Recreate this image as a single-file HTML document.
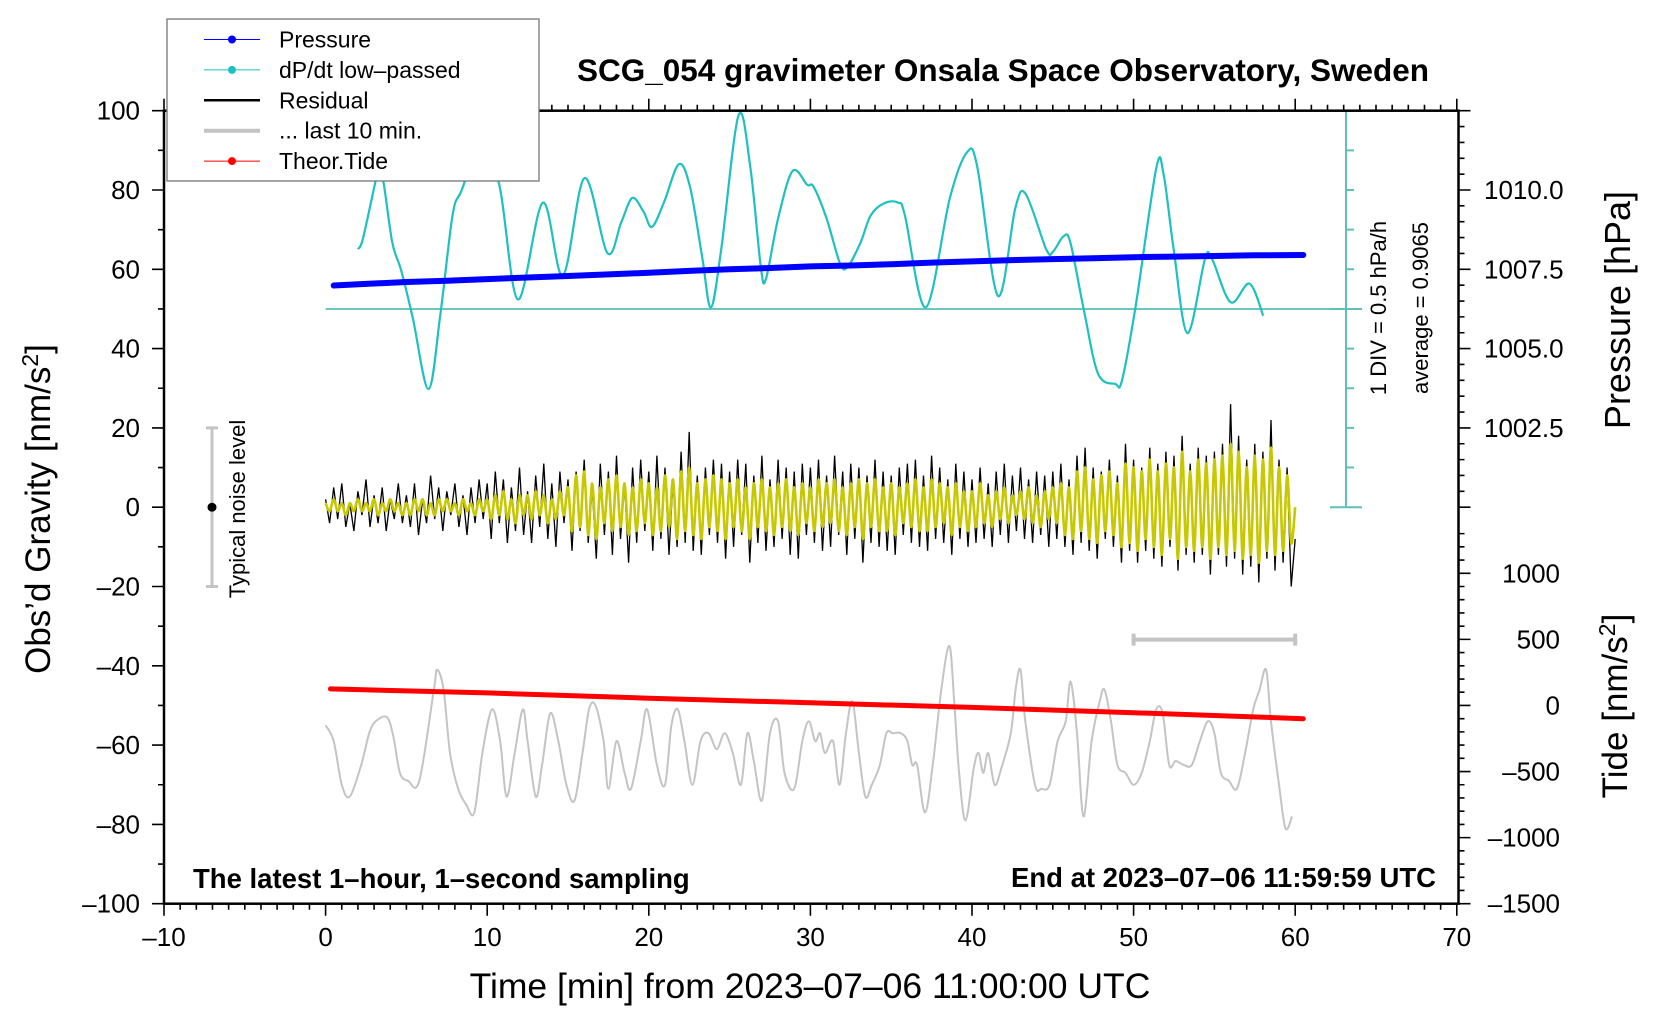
<!DOCTYPE html>
<html><head><meta charset="utf-8"><style>
html,body{margin:0;padding:0;background:#fff}
svg{display:block;font-family:"Liberation Sans",sans-serif}
</style></head><body>
<svg id="chart" width="1660" height="1020" viewBox="0 0 1660 1020" xmlns="http://www.w3.org/2000/svg">
<rect x="0" y="0" width="1660" height="1020" fill="#fff"/>
<g id="plot"></g>
<g id="axes"></g>
<text x="1003" y="81" text-anchor="middle" font-size="31.5" font-weight="bold">SCG_054 gravimeter Onsala Space Observatory, Sweden</text>
<text x="193" y="888" font-size="27.5" font-weight="bold">The latest 1–hour, 1–second sampling</text>
<text x="1436" y="887" text-anchor="end" font-size="27.5" font-weight="bold">End at 2023–07–06 11:59:59 UTC</text>
<text x="0" y="0" transform="translate(50,509) rotate(-90)" text-anchor="middle" font-size="35">Obs’d Gravity [nm/s<tspan dy="-12" font-size="23">2</tspan><tspan dy="12">]</tspan></text>
<text x="810" y="998" text-anchor="middle" font-size="35.5">Time [min] from 2023–07–06 11:00:00 UTC</text>
<text x="0" y="0" transform="translate(1630,310) rotate(-90)" text-anchor="middle" font-size="36">Pressure [hPa]</text>
<text x="0" y="0" transform="translate(1627,706) rotate(-90)" text-anchor="middle" font-size="35">Tide [nm/s<tspan dy="-12" font-size="23">2</tspan><tspan dy="12">]</tspan></text>
<text x="0" y="0" transform="translate(1386,308) rotate(-90)" text-anchor="middle" font-size="22">1 DIV = 0.5 hPa/h</text>
<text x="0" y="0" transform="translate(1428,308) rotate(-90)" text-anchor="middle" font-size="22">average = 0.9065</text>
<text x="0" y="0" transform="translate(245,509) rotate(-90)" text-anchor="middle" font-size="22">Typical noise level</text>
<g id="legend"></g>
</svg>
<script>
// ---- data ----
const tickX = [-10,0,10,20,30,40,50,60,70];
const tickY = [-100,-80,-60,-40,-20,0,20,40,60,80,100];
const tickP = ["1010.0","1007.5","1005.0","1002.5"];
const tickTide = [1000,500,0,-500,-1000,-1500];
const cyanT = [2.0,2.3,3.05,3.3,3.6,4.13,4.67,5.4,6.37,7.1,7.86,8.4,9.5,10.73,11.9,13.44,14.68,16.02,17.44,18.3,18.98,19.68,20.2,20.96,21.86,22.56,23.3,23.84,24.48,25.55,26.28,26.93,27.25,28.0,28.9,29.8,30.2,31.0,31.83,32.3,33.1,33.73,34.58,35.43,35.85,37.14,38.63,39.69,40.33,41.6,42.68,43.32,44.6,45.02,45.66,46.09,46.94,47.8,48.86,49.28,50.14,51.4,51.85,52.48,53.33,54.4,54.83,56.0,57.17,58.02];
const cyanV = [65.1,67.6,81.5,86,81.5,66.7,59.8,47.6,29.8,48.5,73.7,79.7,90,81.6,52.4,76.8,58.4,83,64.1,71.9,78,74.5,70.7,77.1,86.5,80.6,63.2,50.4,65,98.8,85.8,60.6,57.6,72.8,84.8,81.3,80.8,72.8,61.5,60.6,66.7,73.6,76.7,76.8,73.6,50.4,78,89.5,85.8,53.3,75.4,79,65,64.5,68.3,66.7,49.3,33.7,31.1,32,51.1,85.4,84.1,65,43.9,62.3,62.8,51.7,56.4,48.3];
const presT = [0.5,2.5,5,7.5,10,12.5,15,17.5,20,22.5,25,27.5,30,32.5,35,37.5,40,42.5,45,47.5,50,52.5,55,57.5,60.5];
const presV = [1006.99,1007.04,1007.1,1007.14,1007.19,1007.24,1007.29,1007.34,1007.39,1007.45,1007.5,1007.54,1007.59,1007.62,1007.66,1007.71,1007.75,1007.79,1007.82,1007.85,1007.88,1007.9,1007.92,1007.94,1007.95];
const tideT = [0.3,10,20,30,40,50,60.5];
const tideV = [125,95,55,20,-15,-55,-100];
const resid = [2,-4,5,-3,6,-5,1,-6,4,-2,7,-5,3,-4,5,-6,2,-3,6,-4,
3,-5,6,-7,2,-4,8,-3,5,-6,4,-2,6,-5,3,-7,5,-4,7,-3,
6,-8,9,-4,7,-9,5,-6,10,-7,4,-9,8,-5,11,-8,6,-10,9,-4,
7,-11,9,-6,12,-9,5,-13,11,-7,9,-12,13,-8,6,-14,10,-9,12,-6,
9,-11,13,-8,10,-12,7,-10,14,-9,19,-11,8,-12,10,-7,12,-9,11,-13,
9,-10,12,-7,11,-14,8,-9,13,-11,7,-10,12,-8,10,-12,9,-13,11,-7,
10,-9,12,-11,8,-10,13,-7,9,-12,11,-8,10,-14,8,-9,12,-10,9,-11,
8,-12,10,-7,11,-9,12,-10,8,-11,13,-8,10,-9,7,-12,11,-8,9,-10,
7,-9,10,-8,6,-10,9,-7,11,-9,8,-6,10,-8,7,-9,9,-7,8,-10,
9,-8,11,-10,7,-12,13,-9,15,-11,10,-13,9,-8,12,-10,8,-14,16,-11,
12,-14,10,-11,15,-13,11,-15,14,-10,13,-16,18,-12,11,-14,15,-12,13,-17,
14,-12,16,-15,26,-13,18,-17,12,-15,16,-19,14,-13,22,-16,12,-14,10,-20,-8];
const smooth = [1,-1,2,-1,1,-2,1,-1,2,-1,1,-1,2,-2,1,-1,2,-1,1,-2,
1,-2,2,-1,2,-2,1,-2,2,-1,2,-1,1,-2,2,-1,1,-2,2,-1,
2,-3,3,-2,4,-3,2,-4,3,-2,3,-3,4,-2,3,-4,2,-3,4,-2,
5,-6,8,-5,9,-7,6,-8,5,-4,7,-6,8,-5,6,-7,5,-6,7,-4,
6,-7,5,-6,8,-5,7,-8,9,-6,10,-7,6,-8,7,-5,8,-6,7,-8,
6,-5,7,-6,5,-8,6,-5,7,-6,5,-7,6,-5,7,-6,5,-7,6,-4,
5,-6,7,-5,6,-4,7,-6,5,-7,6,-5,7,-8,6,-5,7,-6,5,-6,
6,-7,5,-4,6,-5,7,-6,5,-6,7,-5,6,-4,5,-7,6,-5,4,-6,
4,-5,6,-4,3,-5,4,-3,5,-4,3,-2,4,-3,5,-4,3,-5,4,-3,
5,-4,6,-7,5,-8,9,-6,10,-8,7,-9,8,-6,9,-7,6,-10,11,-9,
10,-11,9,-8,12,-10,9,-12,11,-8,10,-13,14,-10,9,-11,12,-10,11,-13,
12,-10,13,-12,16,-11,14,-13,10,-12,13,-14,12,-11,15,-12,10,-11,8,-9,0];
const grayT = [0,0.5,1.0,1.5,2.2,2.7,3.1,3.8,4.2,4.6,5.1,5.8,6.7,6.9,7.3,7.7,8.2,8.7,9.2,9.7,10.3,10.8,11.2,11.7,12.2,12.5,13.0,13.4,13.9,14.4,14.9,15.4,15.9,16.3,16.7,17.2,17.5,18.0,18.5,18.9,19.5,19.9,20.5,21.0,21.4,21.8,22.2,22.7,23.2,23.7,24.2,24.7,25.2,25.7,26.1,26.5,27.0,27.5,28.0,28.4,29.0,29.5,29.9,30.3,30.6,30.9,31.4,31.8,32.2,32.6,33.0,33.4,33.8,34.3,34.7,35.1,35.6,36.0,36.3,36.6,37.1,37.6,38.1,38.6,38.9,39.2,39.6,40.1,40.4,40.7,41.0,41.4,41.8,42.4,42.7,43.0,43.3,43.9,44.3,44.8,45.3,45.8,46.1,46.5,46.9,47.4,47.9,48.2,48.6,49.0,49.5,50.0,50.5,51.0,51.4,51.8,52.2,52.6,53.1,53.6,54.1,54.6,55.0,55.4,55.9,56.4,56.9,57.4,57.8,58.2,58.5,59.0,59.4,59.8];
const grayV = [-55,-59,-70,-73,-65,-57,-54,-53,-58,-67,-69,-69,-46,-41,-46,-62,-71,-75,-77,-62,-51,-59,-73,-62,-51,-59,-73,-65,-52,-59,-70,-74,-62,-51,-50,-59,-71,-59,-67,-71,-59,-51,-65,-70,-55,-51,-59,-70,-59,-57,-61,-57,-62,-70,-57,-64,-74,-57,-54,-67,-71,-59,-54,-59,-57,-62,-59,-70,-57,-49,-62,-73,-70,-65,-57,-57,-57,-59,-65,-65,-77,-64,-46,-35,-49,-67,-79,-66,-62,-67,-62,-70,-66,-57,-46,-41,-54,-70,-71,-70,-59,-54,-44,-57,-78,-59,-49,-46,-54,-65,-67,-70,-67,-59,-51,-52,-65,-64,-65,-65,-59,-54,-57,-67,-69,-71,-62,-51,-46,-41,-54,-70,-81,-78];

// ---- scales ----
const X = t => 325.6 + t*16.16;
const Y = g => 110.7 + (100-g)*3.965;
const P2G = p => 80 + (p-1010)*8;
const T2G = v => -50 + v/30;
const NS = "http://www.w3.org/2000/svg";
const plot = document.getElementById('plot');
const axes = document.getElementById('axes');
const legend = document.getElementById('legend');
function mk(tag, attrs, parent){const e=document.createElementNS(NS,tag);for(const k in attrs)e.setAttribute(k,attrs[k]);parent.appendChild(e);return e;}
function pts(xs, ys){return xs.map((x,i)=>x.toFixed(1)+','+ys[i].toFixed(1)).join(' ');}
function smoothPath(xs, ys){
  let d = `M${xs[0].toFixed(1)},${ys[0].toFixed(1)}`;
  for(let i=0;i<xs.length-1;i++){
    const x0=xs[Math.max(0,i-1)], y0=ys[Math.max(0,i-1)];
    const x1=xs[i], y1=ys[i], x2=xs[i+1], y2=ys[i+1];
    const x3=xs[Math.min(xs.length-1,i+2)], y3=ys[Math.min(xs.length-1,i+2)];
    const c1x=x1+(x2-x0)/6, c1y=y1+(y2-y0)/6, c2x=x2-(x3-x1)/6, c2y=y2-(y3-y1)/6;
    d += `C${c1x.toFixed(1)},${c1y.toFixed(1)} ${c2x.toFixed(1)},${c2y.toFixed(1)} ${x2.toFixed(1)},${y2.toFixed(1)}`;
  }
  return d;
}

// gray last-10-min line
let e = mk('path',{d:smoothPath(grayT.map(X),grayV.map(g=>Y(g))),fill:'none',stroke:'#c4c4c4','stroke-width':2},plot);


// gray scale bar
e = mk('path',{d:`M${X(50)},${Y(-33.4)}H${X(60)}M${X(50)},${Y(-33.4)-6}v12M${X(60)},${Y(-33.4)-6}v12`,stroke:'#c4c4c4','stroke-width':4,fill:'none'},plot);


// tide
e = mk('polyline',{points:pts(tideT.map(X),tideV.map(v=>Y(T2G(v)))),fill:'none',stroke:'#ff0000','stroke-width':5,'stroke-linecap':'round'},plot);


// residual
const rt = resid.map((v,i)=>i*0.25);
e = mk('polyline',{points:pts(rt.map(X),resid.map(Y)),fill:'none',stroke:'#000','stroke-width':1.3},plot);


const st = smooth.map((v,i)=>i*0.25);
e = mk('path',{d:smoothPath(st.map(X),smooth.map(Y)),fill:'none',stroke:'#c8c800','stroke-width':2.6,'stroke-linejoin':'round'},plot);


// cyan baseline
e = mk('line',{x1:X(0),x2:1362,y1:Y(50),y2:Y(50),stroke:'#6cc6c0','stroke-width':2},plot);


// cyan curve
e = mk('path',{d:smoothPath(cyanT.map(X),cyanV.map(Y)),fill:'none',stroke:'#1fc0c0','stroke-width':2.2,'stroke-linejoin':'round'},plot);


// pressure
e = mk('polyline',{points:pts(presT.map(X),presV.map(p=>Y(P2G(p)))),fill:'none',stroke:'#0000ff','stroke-width':6,'stroke-linecap':'round'},plot);


// cyan scale
let d = `M1346,${Y(100)}V${Y(0)}M1330,${Y(100)}H1362M1330,${Y(50)}H1362M1330,${Y(0)}H1362`;
for(let g=10; g<100; g+=10){ if(g!==50) d += `M1346,${Y(g)}h8`; }
e = mk('path',{d:d,stroke:'#5fc0bb','stroke-width':2,fill:'none'},plot);


// noise level
e = mk('path',{d:`M212,${Y(20)}V${Y(-20)}M206,${Y(20)}h12M206,${Y(-20)}h12`,stroke:'#c4c4c4','stroke-width':3,fill:'none'},plot);


e = mk('circle',{cx:212,cy:Y(0),r:4.5,fill:'#000'},plot);



// ---- axes ----
const L=164, R=1458.5, T=Y(100), B=Y(-100);
e = mk('rect',{x:L,y:T,width:R-L,height:B-T,fill:'none',stroke:'#000','stroke-width':2.5},axes);


let td = '';
for(let t=-10;t<=70;t++){const len=(t%10===0)?12:6;td+=`M${X(t)},${B}v${len}M${X(t)},${T}v${-len}`;}
for(let g=-100;g<=100;g+=10){const len=(g%20===0)?12:6;td+=`M${L},${Y(g)}h${-len}`;}
for(let p=1012.5;p>=1000;p-=0.5){const g=P2G(p);if(g<-2)break;const maj=Math.abs((p*2)%5)<1e-6;td+=`M${R},${Y(g)}h${maj?12:6}`;}
for(let v=-1500;v<=1300;v+=100){const maj=v%500===0;td+=`M${R},${Y(T2G(v))}h${maj?12:6}`;}
e = mk('path',{d:td,stroke:'#000','stroke-width':1.6,fill:'none'},axes);


tickX.forEach(t=>{
  const el = mk('text',{x:X(t),y:946,'text-anchor':'middle','font-size':26},axes);
  el.textContent = String(t).replace('-','–');
  
  
});
tickY.forEach(g=>{
  const el = mk('text',{x:140,y:Y(g)+9,'text-anchor':'end','font-size':26},axes);
  el.textContent = String(g).replace('-','–');
  
  
});
tickP.forEach(p=>{
  const el = mk('text',{x:1484,y:Y(P2G(parseFloat(p)))+9,'font-size':26},axes);
  el.textContent = p;
  
  
});
tickTide.forEach(v=>{
  const el = mk('text',{x:1560,y:Y(T2G(v))+9,'text-anchor':'end','font-size':26},axes);
  el.textContent = String(v).replace('-','–');
  
  
});

// ---- legend ----
e = mk('rect',{x:167,y:19,width:372,height:162,fill:'#fff',stroke:'#777','stroke-width':1.3},legend);


const legLabels = ["Pressure","dP/dt low–passed","Residual","... last 10 min.","Theor.Tide"];
const legColors = ["#0000ff","#1fc0c0","#000","#c4c4c4","#ff0000"];
const legWidths = [1,1,2.5,4,1];
const legDots = [true,true,false,false,true];
legLabels.forEach((lab,i)=>{
  const y = 39.5 + i*30.4;
  const g = mk('g',{},legend);
  
  
  mk('line',{x1:204,x2:260,y1:y,y2:y,stroke:legColors[i],'stroke-width':legWidths[i]},g);
  if(legDots[i]) mk('circle',{cx:232,cy:y,r:4,fill:legColors[i]},g);
  const t = mk('text',{x:279,y:y+8,'font-size':23},g);
  t.textContent = lab;
});
</script>
</body></html>
